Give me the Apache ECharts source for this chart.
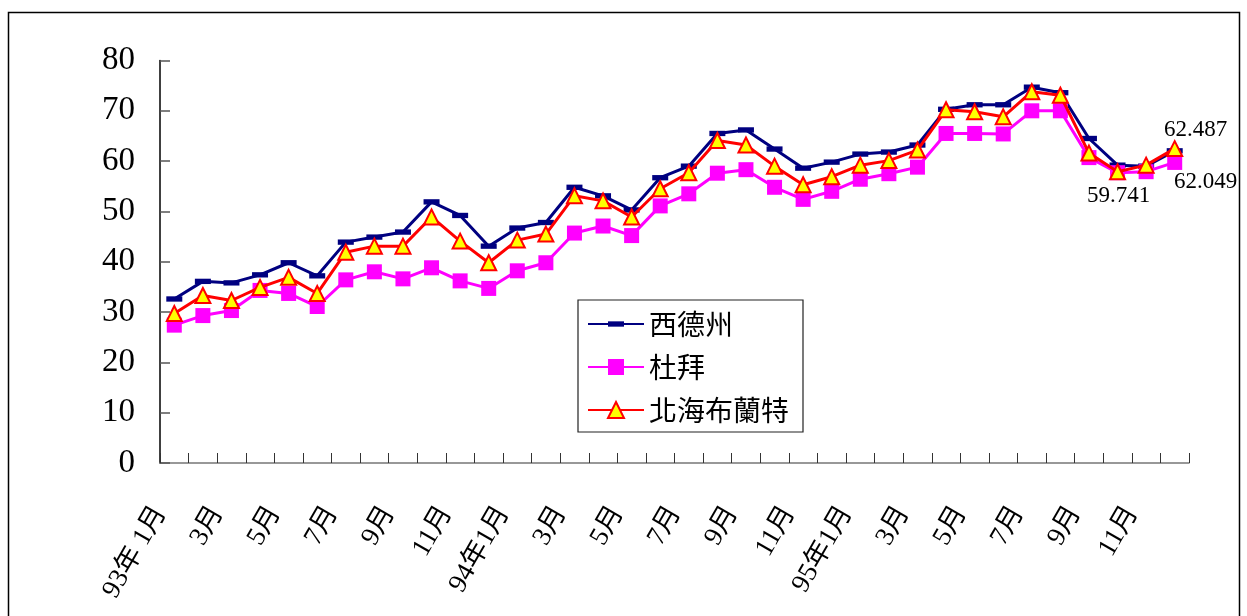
<!DOCTYPE html>
<html>
<head>
<meta charset="utf-8">
<script src="https://cdn.jsdelivr.net/npm/echarts@6/dist/echarts.min.js"></script>
<style>
  html, body { margin: 0; padding: 0; background: #ffffff; }
  #chart { width: 1247px; height: 616px; }
</style>
</head>
<body>
<div id="chart"></div>
<script>
// Monthly crude prices (USD/barrel), 93年1月 – 95年12月
const months = [
  '93年 1月', '2月', '3月', '4月', '5月', '6月', '7月', '8月', '9月', '10月', '11月', '12月',
  '94年1月', '2月', '3月', '4月', '5月', '6月', '7月', '8月', '9月', '10月', '11月', '12月',
  '95年1月', '2月', '3月', '4月', '5月', '6月', '7月', '8月', '9月', '10月', '11月', '12月'
];

const seriesNames = ['西德州', '杜拜', '北海布蘭特'];

const wti = [
  32.6, 36.1, 35.8, 37.4, 39.8, 37.2, 43.9, 44.9, 45.9, 51.9, 49.2, 43.1,
  46.7, 47.8, 54.8, 53.1, 50.3, 56.7, 59.0, 65.5, 66.2, 62.4, 58.6, 59.8,
  61.4, 61.8, 63.2, 70.3, 71.2, 71.2, 74.7, 73.6, 64.5, 59.2, 59.0, 62.049
];

const dubai = [
  27.4, 29.3, 30.3, 34.3, 33.7, 31.1, 36.4, 38.0, 36.6, 38.8, 36.2, 34.7,
  38.2, 39.8, 45.7, 47.1, 45.2, 51.1, 53.5, 57.6, 58.3, 54.8, 52.4, 54.0,
  56.4, 57.5, 58.8, 65.5, 65.5, 65.4, 70.0, 70.0, 60.7, 57.7, 57.9, 59.741
];

const brent = [
  29.7, 33.3, 32.3, 34.9, 36.9, 33.7, 41.9, 43.1, 43.1, 48.9, 44.1, 39.8,
  44.3, 45.5, 53.1, 52.1, 48.9, 54.5, 57.7, 64.1, 63.2, 59.0, 55.3, 56.9,
  59.2, 60.1, 62.2, 70.2, 69.8, 68.8, 73.8, 73.1, 61.6, 57.9, 59.2, 62.487
];

const yMin = 0, yMax = 80, yStep = 10;

const serifFont = '"Liberation Serif", "Noto Sans CJK TC", serif';
const cjkFont = '"Noto Sans CJK TC", "Liberation Serif", sans-serif';

// Last month carries a value label
function withLastLabel(values, offset) {
  return values.map((v, i) => {
    if (i !== values.length - 1) return v;
    return {
      value: v,
      label: {
        show: true,
        position: 'inside',
        offset: offset,
        formatter: String(v),
        fontFamily: serifFont,
        fontSize: 23,
        color: '#000'
      }
    };
  });
}

// Horizontal dash marker inside a square box (the two moveTo points fix the box)
const dashSymbol = 'path://M0,0 M15,15 M0,5 L15,5 L15,10 L0,10 Z';

const chart = echarts.init(document.getElementById('chart'), null, { renderer: 'canvas' });

chart.setOption({
  animation: false,
  backgroundColor: '#ffffff',
  graphic: [{
    type: 'rect',
    silent: true,
    z: -10,
    shape: { x: 8.5, y: 12.5, width: 1231, height: 700 },
    style: { fill: 'none', stroke: '#000', lineWidth: 1.5 }
  }],
  grid: {
    left: 160, right: 58, top: 60.5, bottom: 153,
    containLabel: false,
    outerBoundsMode: 'none'
  },
  legend: {
    orient: 'vertical',
    left: 578, top: 300,
    padding: [9, 14, 7, 9],
    itemWidth: 56, itemHeight: 20, itemGap: 13,
    backgroundColor: '#fff',
    borderColor: '#222', borderWidth: 1.2,
    textStyle: { fontFamily: cjkFont, fontSize: 28, color: '#000', lineHeight: 30 },
    data: seriesNames
  },
  xAxis: {
    type: 'category',
    data: months,
    boundaryGap: true,
    axisLine: { show: true, lineStyle: { color: '#777', width: 1.5 } },
    axisTick: { show: true, inside: true, length: 10, interval: 0, lineStyle: { color: '#333', width: 1 } },
    axisLabel: {
      interval: 1,
      rotate: 60,
      margin: 21,
      padding: [0, 28, 0, 0],
      hideOverlap: false,
      fontFamily: serifFont,
      fontSize: 27,
      color: '#000'
    },
    splitLine: { show: false }
  },
  yAxis: {
    type: 'value',
    min: yMin, max: yMax, interval: yStep,
    axisLine: { show: true, lineStyle: { color: '#000', width: 1.5 } },
    axisTick: { show: true, inside: true, length: 10, lineStyle: { color: '#555', width: 1.5 } },
    axisLabel: { margin: 25, fontFamily: serifFont, fontSize: 33, color: '#000' },
    splitLine: { show: false }
  },
  series: [
    {
      name: seriesNames[0],
      type: 'line',
      data: withLastLabel(wti, [31, 31]),
      symbol: dashSymbol,
      symbolSize: 16,
      symbolKeepAspect: true,
      lineStyle: { color: '#000080', width: 3 },
      itemStyle: { color: '#000080' },
      z: 2
    },
    {
      name: seriesNames[1],
      type: 'line',
      data: withLastLabel(dubai, [-56, 34]),
      symbol: 'rect',
      symbolSize: 15,
      lineStyle: { color: '#ff00ff', width: 3 },
      itemStyle: { color: '#ff00ff' },
      z: 3
    },
    {
      name: seriesNames[2],
      type: 'line',
      data: withLastLabel(brent, [21, -19]),
      symbol: 'triangle',
      symbolSize: 15,
      lineStyle: { color: '#ff0000', width: 3 },
      itemStyle: { color: '#ffff00', borderColor: '#ff0000', borderWidth: 2 },
      z: 4
    }
  ]
});
</script>
</body>
</html>
